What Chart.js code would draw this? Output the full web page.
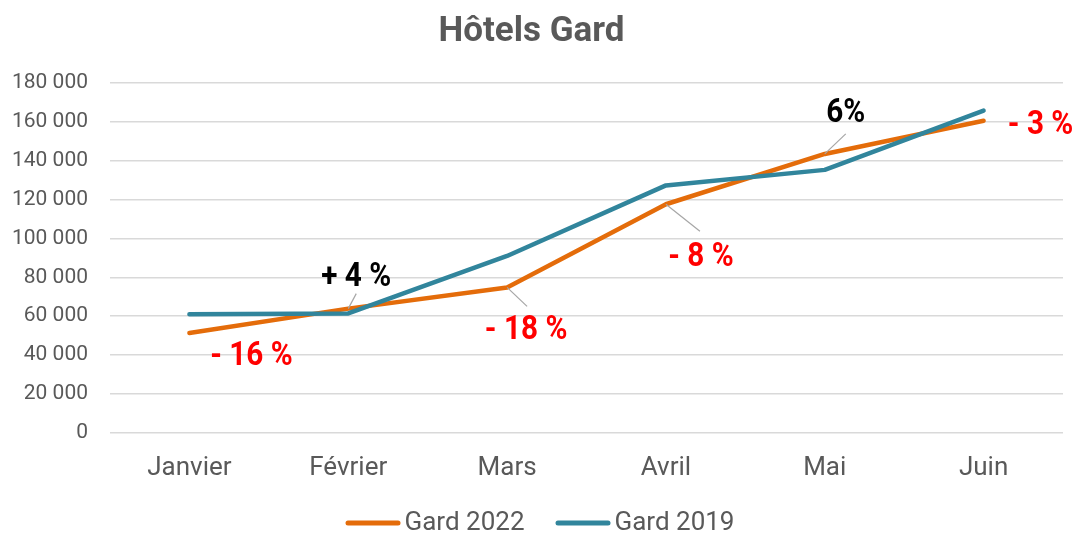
<!DOCTYPE html>
<html>
<head>
<meta charset="utf-8">
<script src="https://cdn.jsdelivr.net/npm/chart.js@4/dist/chart.umd.min.js"></script>
<style>
  html, body { margin: 0; padding: 0; background: #fff; }
  #wrap { width: 1080px; height: 536px; }
</style>
</head>
<body>
<div id="wrap"><canvas id="chart1"></canvas></div>
<script>
const months = ['Janvier', 'Février', 'Mars', 'Avril', 'Mai', 'Juin'];
const gard2022 = [51400, 63900, 74800, 117600, 143500, 160600];
const gard2019 = [61000, 61400, 91000, 127300, 135300, 165800];
const ecarts = ['- 16 %', '+ 4 %', '- 18 %', '- 8 %', '6%', '- 3 %'];
const yMax = 180000;
const yStep = 20000;

// where each % label sits, relative to the 2022 point (px), and optional leader line end
const labelPlace = [
    { dx: 62, dy: 23 },
    { dx: 8, dy: -32, lx: 8, ly: -15 },
    { dx: 19, dy: 42, lx: 20, ly: 19 },
    { dx: 35, dy: 52, lx: 34, ly: 27 },
    { dx: 21, dy: -41, lx: 21, ly: -20 },
    { dx: 57, dy: 4 }
];

const ORANGE = '#E46C0A';
const TEAL = '#31859C';
const GREY = '#595959';

function fmt(v) {
    return String(v).replace(/\B(?=(\d{3})+(?!\d))/g, ' ');
}

const ecartLabels = {
    id: 'ecartLabels',
    afterDatasetsDraw(chart) {
        const ctx = chart.ctx;
        const pts = chart.getDatasetMeta(0).data;
        pts.forEach((p, i) => {
            const pl = labelPlace[i];
            ctx.save();
            if (pl.lx !== undefined) {
                ctx.strokeStyle = '#A6A6A6';
                ctx.lineWidth = 1.2;
                ctx.beginPath();
                ctx.moveTo(p.x, p.y);
                ctx.lineTo(p.x + pl.lx, p.y + pl.ly);
                ctx.stroke();
            }
            ctx.translate(p.x + pl.dx, p.y + pl.dy);
            ctx.scale(0.9, 1); // condensed look
            ctx.font = "bold 33px Roboto, sans-serif";
            ctx.textAlign = 'center';
            ctx.textBaseline = 'middle';
            ctx.fillStyle = ecarts[i].startsWith('-') ? '#FF0000' : '#000000';
            ctx.fillText(ecarts[i], 0, 1);
            ctx.restore();
        });
    }
};

// legend drawn by hand so the swatch/text gaps match
const bottomLegend = {
    id: 'bottomLegend',
    afterDraw(chart) {
        const ctx = chart.ctx;
        const items = chart.data.datasets;
        const sw = 55, gap = 4, between = 31;
        ctx.save();
        ctx.font = '26px Roboto, sans-serif';
        ctx.textBaseline = 'middle';
        const widths = items.map(d => sw + gap + ctx.measureText(d.label).width);
        const total = widths.reduce((a, b) => a + b, 0) + between * (items.length - 1);
        let x = chart.width / 2 - total / 2;
        const y = 523;
        items.forEach((d, i) => {
            ctx.strokeStyle = d.borderColor;
            ctx.lineWidth = 5;
            ctx.lineCap = 'round';
            ctx.beginPath();
            ctx.moveTo(x + 2.5, y);
            ctx.lineTo(x + sw - 2.5, y);
            ctx.stroke();
            ctx.fillStyle = GREY;
            ctx.fillText(d.label, x + sw + gap, y);
            x += widths[i] + between;
        });
        ctx.restore();
    }
};

const ctx = document.getElementById('chart1');
const chart = new Chart(ctx, {
    type: 'line',
    data: {
        labels: months,
        datasets: [{
            label: 'Gard 2022',
            data: gard2022,
            borderColor: ORANGE,
            backgroundColor: ORANGE,
            borderWidth: 4.5,
            borderCapStyle: 'round',
            borderJoinStyle: 'round',
            pointRadius: 0,
            tension: 0,
            order: 1
        }, {
            label: 'Gard 2019',
            data: gard2019,
            borderColor: TEAL,
            backgroundColor: TEAL,
            borderWidth: 4.5,
            borderCapStyle: 'round',
            borderJoinStyle: 'round',
            pointRadius: 0,
            tension: 0,
            order: 0
        }]
    },
    options: {
        responsive: true,
        maintainAspectRatio: false,
        animation: false,
        layout: { padding: { left: 0, right: 17, top: 0, bottom: 32 } },
        scales: {
            x: {
                offset: true,
                grid: { display: false, drawTicks: false },
                border: { display: false },
                ticks: {
                    color: GREY,
                    padding: 20,
                    font: { family: 'Roboto', size: 26 }
                }
            },
            y: {
                min: 0,
                max: yMax,
                afterFit(scale) { scale.width = 110; },
                grid: { color: '#D9D9D9', lineWidth: 1.5, drawTicks: false },
                border: { display: false },
                ticks: {
                    stepSize: yStep,
                    color: GREY,
                    padding: 22,
                    font: { family: 'Roboto', size: 21 },
                    callback: (v) => fmt(v)
                }
            }
        },
        plugins: {
            title: {
                display: true,
                text: 'Hôtels Gard',
                color: GREY,
                font: { family: 'Roboto', size: 35, weight: 'bold' },
                padding: { top: 11, bottom: 30 }
            },
            legend: { display: false },
            tooltip: { enabled: false }
        }
    },
    plugins: [ecartLabels, bottomLegend]
});
</script>
</body>
</html>
